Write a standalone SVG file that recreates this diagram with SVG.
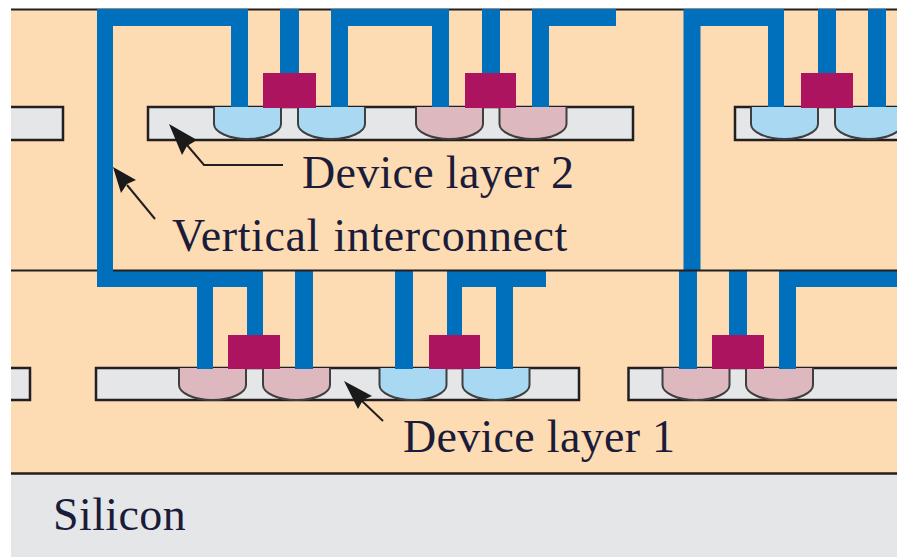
<svg xmlns="http://www.w3.org/2000/svg" width="897" height="557" viewBox="0 0 897 557">
<style>
.bg{fill:#fddcb3}
.si{fill:#e5e6e8}
.box{fill:#e5e6e8;stroke:#231f20;stroke-width:2.500}
.rule{fill:none;stroke:#231f20;stroke-width:2}
.w{fill:#006fbc}
.g{fill:#ad1460}
.n{fill:#a9d8f3;stroke:#3f3f3f;stroke-width:2}
.p{fill:#deb8bf;stroke:#3f3f3f;stroke-width:2}
.lead{fill:none;stroke:#231f20;stroke-width:2}
.head{fill:#1a1a1a}
text{font-family:"Liberation Serif","Times New Roman",serif;font-size:46px;fill:#1b1b3a}
</style>
<defs>
<path id="well" d="M0 0V17C0 25 15 32 33.500 32C52 32 67 25 67 17V0"/>
</defs>
<rect class="bg" x="11" y="9" width="886" height="464"/>
<rect class="si" x="11" y="473" width="886" height="84"/>
<g id="top-rule">
<path class="rule" d="M11 9.500H897"/>
<path d="M11 473.500H897" fill="none" stroke="#231f20" stroke-width="2.500"/>
</g>
<g id="device-layer-2">
<path class="box" d="M11 107H63V140H11"/>
<rect class="box" x="148" y="107" width="485" height="33"/>
<path class="box" d="M897 107H735V140H897"/>
<use href="#well" class="n" x="214" y="107"/>
<use href="#well" class="n" x="298" y="107"/>
<use href="#well" class="p" x="416" y="107"/>
<use href="#well" class="p" x="499.500" y="107"/>
<use href="#well" class="n" x="751" y="107"/>
<use href="#well" class="n" x="835" y="107"/>
</g>
<g id="device-layer-1">
<path class="box" d="M11 368H30V400H11"/>
<rect class="box" x="96" y="368" width="483" height="32"/>
<path class="box" d="M897 368H628.500V400H897"/>
<use href="#well" class="p" x="179" y="368"/>
<use href="#well" class="p" x="263" y="368"/>
<use href="#well" class="n" x="379.500" y="368"/>
<use href="#well" class="n" x="462.500" y="368"/>
<use href="#well" class="p" x="662.500" y="368"/>
<use href="#well" class="p" x="746" y="368"/>
</g>
<g id="interconnect">
<path class="w" d="M97 9H248V107H231V26H113V270H263V335H247V287H213V369H197V287H97Z"/>
<rect class="w" x="280" y="9" width="19" height="66"/>
<path class="w" d="M331 9H449V107H432V26H348V107H331Z"/>
<rect class="w" x="482" y="9" width="18" height="66"/>
<path class="w" d="M532 9H616V26H549V107H532Z"/>
<path class="w" d="M683.500 9H784V107H768V26H700.500V270H683.500Z"/>
<rect class="w" x="818" y="9" width="18" height="66"/>
<rect class="w" x="868" y="9" width="18" height="98"/>
<rect class="w" x="295" y="270" width="18" height="99"/>
<rect class="w" x="395" y="270" width="18" height="99"/>
<path class="w" d="M447 270H546V287H513V369H496V287H462V336H447Z"/>
<rect class="w" x="679" y="270" width="18" height="99"/>
<rect class="w" x="729" y="270" width="18" height="66"/>
<path class="w" d="M779 270H897V287H796V369H779Z"/>
</g>
<g id="middle-rule">
<path class="rule" d="M11 270.500H97M113 270.500H897"/>
</g>
<g id="gates">
<rect class="g" x="263" y="73" width="53" height="35"/>
<rect class="g" x="465" y="73" width="51" height="35"/>
<rect class="g" x="801" y="73" width="52" height="35"/>
<rect class="g" x="228" y="335" width="52" height="34"/>
<rect class="g" x="429" y="335" width="51" height="34"/>
<rect class="g" x="712" y="335" width="52" height="34"/>
</g>
<g id="connectors">
<path class="lead" d="M187 145L204 165H283"/>
<path class="head" d="M169 124L197 140L187 146L182 155Z"/>
<path class="lead" d="M127 185L155 219"/>
<path class="head" d="M113 167L136 180L127 184L121 193Z"/>
<path class="lead" d="M362 401L383 421"/>
<path class="head" d="M344 381L372 396L363 400L358 409Z"/>
</g>
<g id="labels">
<text x="302" y="188" letter-spacing="0.300">Device layer 2</text>
<text x="172" y="251" letter-spacing="0.600" word-spacing="1.500">Vertical interconnect</text>
<text x="403" y="452" letter-spacing="0.300">Device layer 1</text>
<text x="53" y="530" letter-spacing="0.400">Silicon</text>
</g>
</svg>
